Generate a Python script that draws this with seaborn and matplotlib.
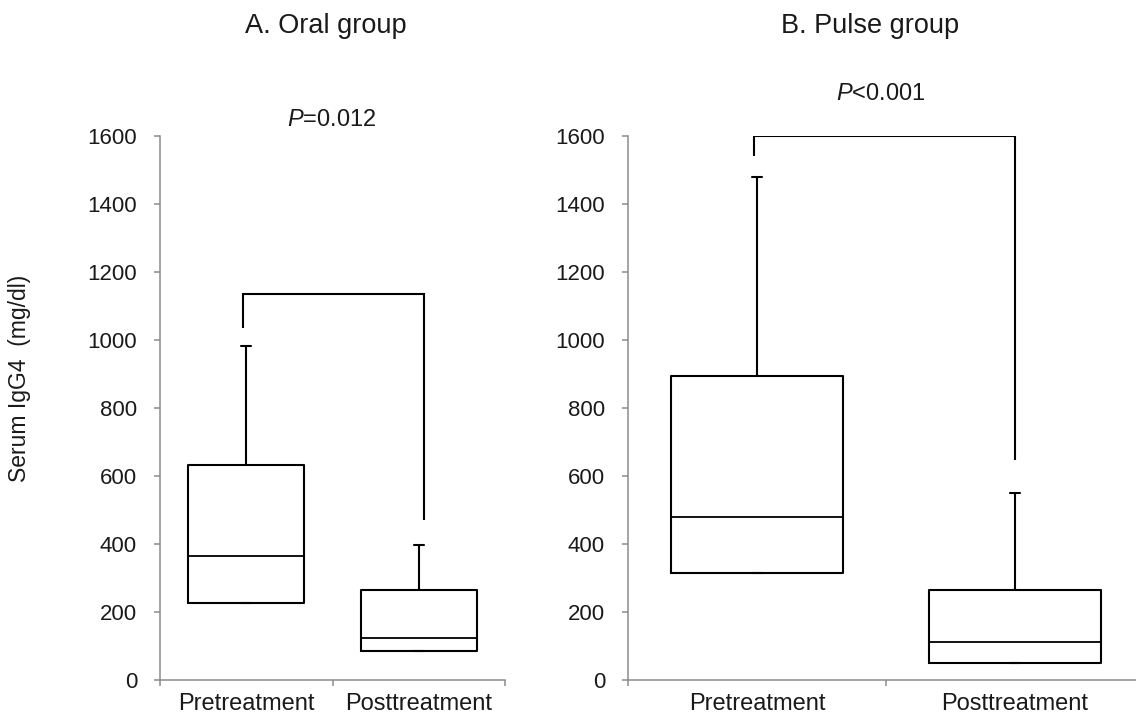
import numpy as np
import pandas as pd
import seaborn as sns
from matplotlib import pyplot as plt

# values (mg/dl)
groups = ['Pretreatment', 'Posttreatment']

oral_q1 = [227, 85]
oral_median = [366, 125]
oral_q3 = [631, 265]
oral_max = [982, 397]

pulse_q1 = [314, 50]
pulse_median = [478, 111]
pulse_q3 = [894, 265]
pulse_max = [1480, 551]

# significance brackets: top, bottom of left leg, bottom of right leg
oral_bracket = [1136, 1036, 471]
pulse_bracket = [1600, 1540, 648]
p_labels = [r'$\mathit{P}$=0.012', r'$\mathit{P}$<0.001']
titles = ['A. Oral group', 'B. Pulse group']
yticks = [0, 200, 400, 600, 800, 1000, 1200, 1400, 1600]


def make_frame(q1, med, q3, top):
    # five values per group -> quartiles land exactly on q1/med/q3
    rows = []
    for g, a, m, b, t in zip(groups, q1, med, q3, top):
        for v in [a, a, m, b, t]:
            rows.append({'group': g, 'value': v})
    return pd.DataFrame(rows)


sns.set_style('ticks')
plt.rcParams['font.family'] = ['Liberation Sans', 'DejaVu Sans']
plt.rcParams['mathtext.fontset'] = 'custom'
plt.rcParams['mathtext.it'] = 'Liberation Sans:italic'
plt.rcParams['mathtext.rm'] = 'Liberation Sans'

W, H = 1136, 719
fig = plt.figure(figsize=(W / 100, H / 100), dpi=100)
ax_oral = fig.add_axes([160 / W, 1 - 680 / H, 345 / W, 544 / H])
ax_pulse = fig.add_axes([628 / W, 1 - 680 / H, 516 / W, 544 / H])

panels = [
    (ax_oral, make_frame(oral_q1, oral_median, oral_q3, oral_max), oral_bracket, 0.058, [-0.02, 1.03]),
    (ax_pulse, make_frame(pulse_q1, pulse_median, pulse_q3, pulse_max), pulse_bracket, 0.04, [-0.01, 1.0]),
]

grey = '#8c8c8c'
txt = '#1a1a1a'
for ax, df, br, capw, legs in panels:
    sns.boxplot(data=df, x='group', y='value', ax=ax, whis=(0, 100), width=0.67,
                fill=False, color='black', linewidth=1.5, capwidths=capw,
                medianprops={'linewidth': 1.3})
    # bracket
    ax.plot([legs[0], legs[0], legs[1], legs[1]], [br[1], br[0], br[0], br[2]],
            color='black', lw=1.5, solid_capstyle='butt', solid_joinstyle='miter')
    ax.set_xlim(-0.5, 1.5)
    ax.set_ylim(0, 1600)
    ax.set_yticks(yticks)
    ax.set_xticks([0, 1])
    ax.set_xticks([-0.5, 0.5, 1.5], minor=True)
    ax.set_xticklabels(groups)
    ax.set_xlabel('')
    ax.set_ylabel('')
    ax.tick_params(axis='x', which='major', length=0, pad=9, labelsize=17, labelcolor=txt)
    ax.tick_params(axis='x', which='minor', length=4.5, width=1.1, color=grey, direction='out')
    ax.tick_params(axis='y', length=4.5, width=1.1, color=grey, pad=12, labelsize=16, labelcolor=txt)
    for s in ['top', 'right']:
        ax.spines[s].set_visible(False)
    for s in ['left', 'bottom']:
        ax.spines[s].set_color(grey)
        ax.spines[s].set_linewidth(1.1)

fig.text(326 / W, 1 - 33 / H, titles[0], ha='center', va='baseline', fontsize=19.5, color=txt)
fig.text(870 / W, 1 - 33 / H, titles[1], ha='center', va='baseline', fontsize=19.5, color=txt)
fig.text(332 / W, 1 - 126 / H, p_labels[0], ha='center', va='baseline', fontsize=17, color=txt)
fig.text(881 / W, 1 - 100 / H, p_labels[1], ha='center', va='baseline', fontsize=17, color=txt)
fig.text(20 / W, 1 - 378 / H, 'Serum IgG4  (mg/dl)', rotation=90, ha='center', va='center',
         fontsize=16.5, color=txt)

fig.savefig('out.png', dpi=100)
